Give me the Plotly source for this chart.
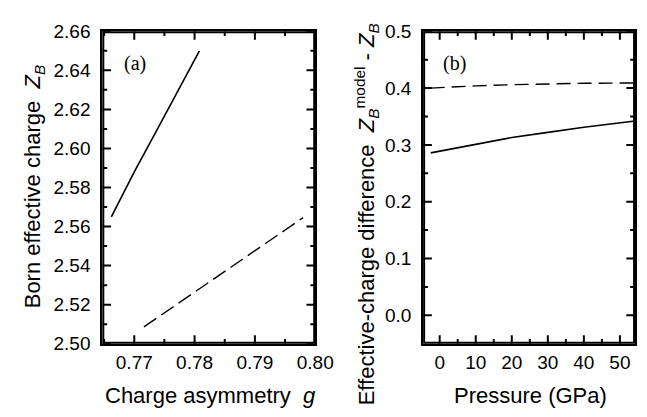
import plotly.graph_objects as go

# Panel (a): Born effective charge vs charge asymmetry
g_solid = [0.7662, 0.7700, 0.7735, 0.7770, 0.7808]
zb_solid = [2.565, 2.588, 2.608, 2.628, 2.650]
g_dash = [0.7716, 0.7790, 0.7861, 0.7920, 0.7980]
zb_dash = [2.5086, 2.5243, 2.5394, 2.5520, 2.5646]

# Panel (b): effective-charge difference vs pressure
p_vals = [-2.5, 0, 10, 20, 30, 40, 54.2]
diff_solid = [0.286, 0.289, 0.302, 0.313, 0.322, 0.331, 0.342]
diff_dash = [0.400, 0.401, 0.404, 0.406, 0.4075, 0.4085, 0.409]

# Axis ranges and tick values
x1_range, y1_range = [0.7647, 0.80], [2.50, 2.66]
x2_range, y2_range = [-4.6, 54.2], [-0.05, 0.5]
x1_major = [0.77, 0.78, 0.79, 0.80]
x1_minor = [0.765, 0.775, 0.785, 0.795]
y1_major = [2.50, 2.52, 2.54, 2.56, 2.58, 2.60, 2.62, 2.64, 2.66]
y1_minor = [2.51, 2.53, 2.55, 2.57, 2.59, 2.61, 2.63, 2.65]
x2_major = [0, 10, 20, 30, 40, 50]
x2_minor = [5, 15, 25, 35, 45]
y2_major = [0.0, 0.1, 0.2, 0.3, 0.4, 0.5]
y2_minor = [0.05, 0.15, 0.25, 0.35, 0.45]

W, H = 647, 417
TICKFONT = dict(family="Liberation Sans, Arial, sans-serif", size=19, color="black")
TITLEFONT = dict(family="Liberation Sans, Arial, sans-serif", size=22, color="black")
SERIF = dict(family="Liberation Serif, serif", size=20, color="black")

ydom = [1 - 343 / H, 1 - 14 / H]
xd1 = [97 / W, 316 / W]
xd2 = [427 / W, 645 / W]
PH = (ydom[1] - ydom[0]) * H

fig = go.Figure()
fig.add_trace(go.Scatter(x=g_solid, y=zb_solid, mode="lines",
                         line=dict(color="black", width=1.6), xaxis="x", yaxis="y"))
fig.add_trace(go.Scatter(x=g_dash, y=zb_dash, mode="lines",
                         line=dict(color="black", width=1.4, dash="15px,6px"), xaxis="x", yaxis="y"))
fig.add_trace(go.Scatter(x=p_vals, y=diff_solid, mode="lines",
                         line=dict(color="black", width=1.6), xaxis="x2", yaxis="y2"))
fig.add_trace(go.Scatter(x=p_vals, y=diff_dash, mode="lines",
                         line=dict(color="black", width=1.4, dash="14px,7px"), xaxis="x2", yaxis="y2"))


def frame_and_ticks(xr, yr, xmaj, xmin, ymaj, ymin, pw, xa, ya):
    x0, x1 = xr
    y0, y1 = yr
    dx = (x1 - x0) / pw
    dy = (y1 - y0) / PH
    # frame (half of the width is clipped by the plot area)
    fig.add_trace(go.Scatter(x=[x0, x1, x1, x0, x0], y=[y0, y0, y1, y1, y0], mode="lines",
                             line=dict(color="black", width=4), xaxis=xa, yaxis=ya,
                             hoverinfo="skip"))
    tx, ty = [], []
    for vals, ln in ((xmaj, 9), (xmin, 5)):
        for t in vals:
            tx += [t, t, None, t, t, None]
            ty += [y0, y0 + ln * dy, None, y1, y1 - ln * dy, None]
    for vals, ln in ((ymaj, 9), (ymin, 5)):
        for t in vals:
            tx += [x0, x0 + ln * dx, None, x1, x1 - ln * dx, None]
            ty += [t, t, None, t, t, None]
    fig.add_trace(go.Scatter(x=tx, y=ty, mode="lines", line=dict(color="black", width=2),
                             xaxis=xa, yaxis=ya, hoverinfo="skip"))


frame_and_ticks(x1_range, y1_range, x1_major, x1_minor, y1_major, y1_minor,
                (xd1[1] - xd1[0]) * W, "x", "y")
frame_and_ticks(x2_range, y2_range, x2_major, x2_minor, y2_major, y2_minor,
                (xd2[1] - xd2[0]) * W, "x2", "y2")

base = dict(ticks="", showline=True, linewidth=2, linecolor="black", mirror=True,
            showgrid=False, zeroline=False, tickfont=TICKFONT)


def axis(domain, anchor, rng, vals, fmt, **kw):
    return dict(domain=domain, anchor=anchor, range=rng, tickmode="array",
                tickvals=vals, ticktext=[format(v, fmt) for v in vals], **base, **kw)


lay = dict(
    xaxis=axis(xd1, "y", x1_range, x1_major, ".2f"),
    yaxis=axis(ydom, "x", y1_range, y1_major, ".2f", ticklabelstandoff=6),
    xaxis2=axis(xd2, "y2", x2_range, x2_major, "d"),
    yaxis2=axis(ydom, "x2", y2_range, y2_major, ".1f", ticklabelstandoff=6),
)


def ann(text, x, y, font=TITLEFONT, angle=0):
    return dict(text=text, x=x / W, y=1 - y / H, xref="paper", yref="paper",
                xanchor="center", yanchor="middle", textangle=angle,
                showarrow=False, font=font)


annotations = [
    ann("(a)", 131, 48, font=SERIF),
    ann("(b)", 459, 48, font=SERIF),
    ann("Charge asymmetry  <i>g</i>", 208, 397),
    ann("Pressure (GPa)", 537, 397),
    ann("Born effective charge  <i>Z<sub>B</sub></i>", 27, 178, angle=-90),
    ann("Effective-charge difference  <i>Z<sub>B</sub></i><sup>model</sup> - <i>Z<sub>B</sub></i>",
        369, 207, angle=-90),
]

fig.update_layout(width=W, height=H, margin=dict(l=0, r=0, t=0, b=0),
                  paper_bgcolor="white", plot_bgcolor="white", showlegend=False,
                  annotations=annotations, **lay)
fig.write_html("out.html")
